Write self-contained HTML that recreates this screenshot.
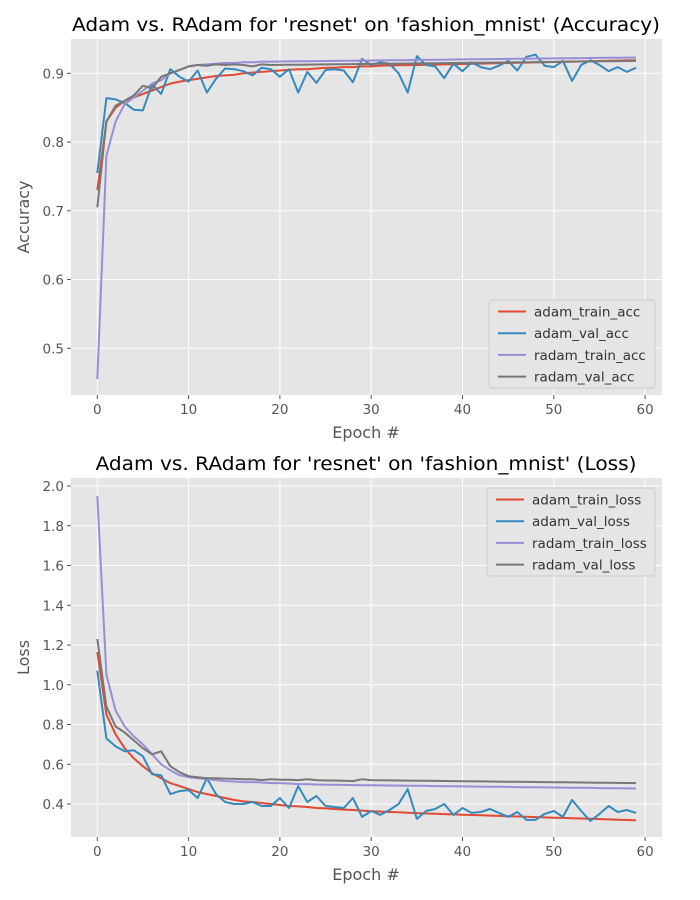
<!DOCTYPE html>
<html><head><meta charset="utf-8"><style>
body{margin:0;background:#fff;}
svg{display:block;font-family:"DejaVu Sans","Liberation Sans",sans-serif;}
</style></head><body>
<svg id="s" width="700" height="900" xmlns="http://www.w3.org/2000/svg"></svg>
<script>
const C={r:"#E24A33",b:"#348ABD",p:"#988ED5",g:"#777777"};
function fill(start,vals,n,end){let a=vals.slice();let last=a[a.length-1];let k=n-a.length;for(let i=1;i<=k;i++)a.push(last+(end-last)*i/k);return a;}
const acc={
r:fill(0,[0.73,0.83,0.85,0.86,0.865,0.87,0.875,0.88,0.885,0.888,0.89,0.892,0.894,0.896,0.897,0.898,0.9,0.901,0.902,0.903,0.904,0.905,0.906,0.906,0.907,0.908,0.908,0.909,0.909,0.91,0.91,0.911],60,0.919),
b:[0.755,0.864,0.862,0.857,0.847,0.846,0.884,0.870,0.906,0.895,0.888,0.904,0.872,0.892,0.907,0.906,0.903,0.897,0.908,0.906,0.895,0.906,0.872,0.902,0.886,0.905,0.906,0.904,0.887,0.921,0.912,0.916,0.914,0.900,0.872,0.925,0.912,0.910,0.893,0.914,0.903,0.916,0.909,0.906,0.911,0.918,0.904,0.924,0.927,0.911,0.909,0.918,0.889,0.912,0.919,0.912,0.903,0.909,0.902,0.908],
p:fill(0,[0.455,0.78,0.83,0.855,0.865,0.875,0.885,0.89,0.9,0.905,0.91,0.912,0.913,0.914,0.915,0.915,0.916,0.916,0.917,0.917],60,0.923),
g:fill(0,[0.705,0.83,0.853,0.86,0.868,0.882,0.878,0.895,0.900,0.905,0.91,0.912,0.911,0.913,0.912,0.913,0.912,0.91,0.913,0.912],60,0.918)};
const loss={
r:fill(0,[1.165,0.85,0.75,0.68,0.63,0.59,0.555,0.53,0.505,0.49,0.475,0.46,0.45,0.44,0.43,0.42,0.413,0.41,0.405,0.4,0.395,0.39,0.388,0.385,0.38,0.378,0.375,0.372,0.37,0.367,0.364,0.362,0.36,0.358,0.356,0.354,0.352],60,0.318),
b:[1.07,0.73,0.69,0.665,0.67,0.64,0.55,0.545,0.45,0.465,0.47,0.43,0.53,0.45,0.41,0.40,0.40,0.41,0.39,0.39,0.43,0.38,0.49,0.41,0.44,0.39,0.385,0.38,0.43,0.335,0.365,0.345,0.37,0.40,0.475,0.325,0.365,0.375,0.40,0.345,0.38,0.355,0.36,0.375,0.355,0.335,0.36,0.32,0.32,0.35,0.365,0.335,0.42,0.365,0.315,0.35,0.39,0.36,0.37,0.355],
p:fill(0,[1.95,1.05,0.87,0.79,0.74,0.70,0.65,0.60,0.57,0.545,0.535,0.53,0.525,0.52,0.515,0.513,0.51,0.51,0.508,0.505,0.505,0.503,0.50,0.50,0.498,0.497],60,0.478),
g:fill(0,[1.23,0.89,0.79,0.76,0.72,0.68,0.65,0.665,0.59,0.56,0.54,0.535,0.53,0.53,0.528,0.527,0.525,0.525,0.52,0.525,0.522,0.522,0.52,0.525,0.52,0.518,0.518,0.517,0.515,0.525,0.52],60,0.505)};
let h="";
const X=e=>97.3+e*9.13;
function panel(top,bot,title,tl,ylab,ticks,Y,data,lx,ly,lw,names){
 h+=`<rect x="71" y="${top}" width="591" height="${bot-top}" fill="#E5E5E5"/>`;
 for(let e=0;e<=60;e+=10){const x=X(e);h+=`<line x1="${x}" y1="${top}" x2="${x}" y2="${bot}" stroke="#fff" stroke-width="1"/><line x1="${x}" y1="${bot}" x2="${x}" y2="${bot+4}" stroke="#555"/><text x="${x}" y="${bot+19}" font-size="13.5" fill="#555" text-anchor="middle">${e}</text>`;}
 for(const t of ticks){const y=Y(t);h+=`<line x1="71" y1="${y}" x2="662" y2="${y}" stroke="#fff"/><line x1="67" y1="${y}" x2="71" y2="${y}" stroke="#555"/><text x="64" y="${y+5}" font-size="13.5" fill="#555" text-anchor="end">${t.toFixed(1)}</text>`;}
 for(const k of ["r","b","p","g"]){h+=`<polyline fill="none" stroke="${C[k]}" stroke-width="2" stroke-linejoin="round" points="${data[k].map((v,i)=>X(i).toFixed(1)+","+Y(v).toFixed(1)).join(" ")}"/>`;}
 h+=`<text x="366" y="${top-8}" font-size="19" text-anchor="middle" fill="#000" textLength="${tl}" lengthAdjust="spacingAndGlyphs">${title}</text>`;
 h+=`<text x="366" y="${bot+43}" font-size="16" text-anchor="middle" fill="#555">Epoch #</text>`;
 const cy=(top+bot)/2;h+=`<text transform="translate(29,${cy}) rotate(-90)" font-size="16" text-anchor="middle" fill="#555">${ylab}</text>`;
 h+=`<rect x="${lx}" y="${ly}" width="${lw}" height="88" rx="3" fill="#E5E5E5" stroke="#ccc" stroke-width="1"/>`;
 ["r","b","p","g"].forEach((k,i)=>{const y=ly+11.5+i*21.7;h+=`<line x1="${lx+9}" y1="${y}" x2="${lx+37}" y2="${y}" stroke="${C[k]}" stroke-width="2"/><text x="${lx+45}" y="${y+5}" font-size="13.5" fill="#333">${names[i]}</text>`;});
}
panel(39,395,"Adam vs. RAdam for 'resnet' on 'fashion_mnist' (Accuracy)",588,"Accuracy",[0.5,0.6,0.7,0.8,0.9],v=>73.3-(v-0.9)*687.5,acc,489,300,166,["adam_train_acc","adam_val_acc","radam_train_acc","radam_val_acc"]);
panel(478,837,"Adam vs. RAdam for 'resnet' on 'fashion_mnist' (Loss)",541,"Loss",[0.4,0.6,0.8,1.0,1.2,1.4,1.6,1.8,2.0],v=>486-(v-2.0)*198.75,loss,487,488,168,["adam_train_loss","adam_val_loss","radam_train_loss","radam_val_loss"]);
document.getElementById("s").innerHTML=h;
</script>
</body></html>
